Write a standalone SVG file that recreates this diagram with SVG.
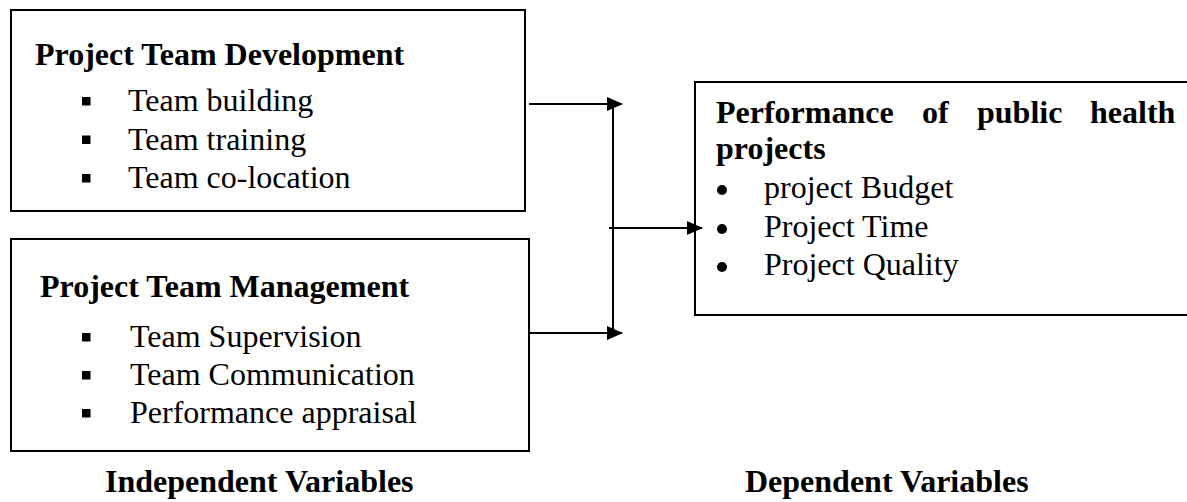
<svg xmlns="http://www.w3.org/2000/svg" width="1187" height="502" viewBox="0 0 1187 502">
<style>
  .box { fill: #ffffff; stroke: #000000; stroke-width: 2; }
  .t { font-family: "Liberation Serif", "Times New Roman", serif; font-size: 32px; fill: #000000; }
  .b { font-weight: bold; }
  .conn { stroke: #000000; stroke-width: 2; fill: none; }
  .sq { fill: #000000; }
</style>
<defs>
  <marker id="arrow" markerWidth="16" markerHeight="14" refX="15" refY="7" orient="auto" markerUnits="userSpaceOnUse">
    <path d="M0,0 L16,7 L0,14 Z" fill="#000000"/>
  </marker>
</defs>
<rect width="1187" height="502" fill="#ffffff"/>

<g id="node-development">
  <rect class="box" x="11" y="10" width="514" height="201"/>
  <text class="t b" x="35" y="65">Project Team Development</text>
  <rect class="sq" x="82" y="97" width="8.5" height="8.5"/>
  <text class="t" x="128" y="111">Team building</text>
  <rect class="sq" x="82" y="135.5" width="8.5" height="8.5"/>
  <text class="t" x="128" y="149.5">Team training</text>
  <rect class="sq" x="82" y="174" width="8.5" height="8.5"/>
  <text class="t" x="128" y="188">Team co-location</text>
</g>

<g id="node-management">
  <rect class="box" x="11" y="239" width="518" height="212"/>
  <text class="t b" x="40" y="297">Project Team Management</text>
  <rect class="sq" x="82" y="333" width="8.5" height="8.5"/>
  <text class="t" x="130" y="347">Team Supervision</text>
  <rect class="sq" x="82" y="371" width="8.5" height="8.5"/>
  <text class="t" x="130" y="385">Team Communication</text>
  <rect class="sq" x="82" y="409" width="8.5" height="8.5"/>
  <text class="t" x="130" y="423">Performance appraisal</text>
</g>

<g id="node-performance">
  <rect class="box" x="695" y="82" width="500" height="233"/>
  <text class="t b" x="716" y="122.5">Performance</text>
  <text class="t b" x="922" y="122.5">of</text>
  <text class="t b" x="977" y="122.5">public</text>
  <text class="t b" x="1090" y="122.5">health</text>
  <text class="t b" x="716" y="159">projects</text>
  <circle cx="722" cy="190" r="5"/>
  <text class="t" x="764" y="198">project Budget</text>
  <circle cx="722" cy="229" r="5"/>
  <text class="t" x="764" y="237">Project Time</text>
  <circle cx="722" cy="267" r="5"/>
  <text class="t" x="764" y="275">Project Quality</text>
</g>

<g id="connectors">
  <line class="conn" x1="529" y1="104" x2="622" y2="104" marker-end="url(#arrow)"/>
  <line class="conn" x1="530" y1="333" x2="622" y2="333" marker-end="url(#arrow)"/>
  <line class="conn" x1="613" y1="104" x2="613" y2="333"/>
  <line class="conn" x1="609" y1="228" x2="702" y2="228" marker-end="url(#arrow)"/>
</g>

<g id="labels">
  <text class="t b" x="105" y="492">Independent Variables</text>
  <text class="t b" x="745" y="492">Dependent Variables</text>
</g>
</svg>
